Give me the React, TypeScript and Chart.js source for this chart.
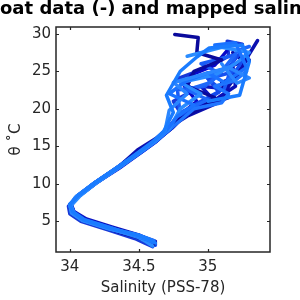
import React, { useEffect, useRef } from "react";
import { Chart, registerables } from "chart.js";

Chart.register(...registerables);

const titleText = "Float data (-) and mapped salinity";
const xLabel = "Salinity (PSS-78)";
const yLabel = "θ ˚C";
const xTicks = [34, 34.5, 35];
const yTicks = [5, 10, 15, 20, 25, 30];

// Profiles: salinity (S) and potential temperature (T), deep to surface
const s1 = [34.61, 34.55, 34.48, 34.28, 34.09, 34.01, 34.0, 34.05, 34.18, 34.34, 34.5, 34.6, 34.7, 34.78, 34.95, 35.05, 34.85, 34.9, 35.1, 34.92, 34.93, 34.76];
const t1 = [1.9, 2.4, 2.9, 4.0, 5.1, 6.1, 7.1, 8.3, 10.1, 12.1, 14.1, 15.6, 17.0, 18.5, 20.0, 21.5, 23.0, 25.0, 26.5, 27.5, 29.5, 29.9];
const s2 = [34.62, 34.56, 34.5, 34.3, 34.1, 34.02, 34.0, 34.06, 34.19, 34.35, 34.49, 34.62, 34.72, 34.85, 35.1, 35.15, 35.25, 35.3, 35.36];
const t2 = [2.3, 2.7, 3.1, 4.1, 5.2, 6.2, 7.2, 8.4, 10.2, 12.2, 14.5, 16.0, 17.5, 19.0, 21.0, 23.0, 25.5, 27.3, 29.1];
const s3 = [34.6, 34.54, 34.47, 34.27, 34.08, 34.0, 33.99, 34.05, 34.17, 34.33, 34.48, 34.61, 34.7, 34.8, 34.75, 34.9, 34.78, 35.0, 35.15, 35.14, 35.25];
const t3 = [1.6, 2.1, 2.7, 3.9, 5.0, 6.0, 7.0, 8.2, 10.0, 12.0, 14.0, 15.7, 17.2, 19.5, 21.0, 22.5, 24.0, 25.5, 27.0, 29.0, 28.6];
const s4 = [34.62, 34.57, 34.5, 34.29, 34.1, 34.02, 34.0, 34.06, 34.18, 34.34, 34.49, 34.6, 34.68, 34.75, 34.7, 34.8, 34.92, 35.01, 35.25, 35.3, 35.23, 35.0];
const t4 = [2.1, 2.6, 3.1, 4.1, 5.2, 6.3, 7.3, 8.4, 10.1, 12.1, 14.1, 15.6, 17.0, 19.5, 21.8, 25.0, 26.9, 28.1, 28.5, 26.3, 21.8, 21.0];
const s5 = [34.6, 34.55, 34.49, 34.3, 34.11, 34.03, 34.01, 34.07, 34.2, 34.36, 34.51, 34.63, 34.72, 34.8, 34.95, 34.8, 35.05, 35.2, 35.3, 35.1, 34.85];
const t5 = [1.7, 2.3, 2.9, 4.0, 5.1, 6.1, 7.1, 8.3, 10.2, 12.2, 14.2, 15.8, 17.3, 20.0, 22.0, 23.5, 24.5, 26.0, 27.5, 28.2, 27.0];
const s6 = [34.61, 34.56, 34.5, 34.29, 34.1, 34.02, 34.0, 34.05, 34.18, 34.34, 34.5, 34.62, 34.73, 34.9, 35.1, 35.0, 35.2, 35.25, 35.28];
const t6 = [2.0, 2.5, 3.0, 4.1, 5.2, 6.2, 7.2, 8.3, 10.1, 12.1, 14.1, 15.7, 17.4, 20.5, 22.5, 24.0, 25.0, 26.3, 27.5];
const s7 = [34.62, 34.57, 34.51, 34.31, 34.12, 34.03, 34.01, 34.06, 34.19, 34.35, 34.52, 34.64, 34.75, 34.88, 35.05, 34.95, 35.12, 35.2, 35.25, 35.27];
const t7 = [2.1, 2.6, 3.1, 4.2, 5.3, 6.3, 7.3, 8.4, 10.2, 12.2, 14.3, 15.9, 17.6, 20.0, 21.0, 23.0, 22.7, 24.5, 26.3, 27.0];
const s8 = [34.6, 34.55, 34.48, 34.28, 34.09, 34.01, 34.0, 34.04, 34.17, 34.33, 34.49, 34.61, 34.69, 34.72, 34.85, 34.75, 34.95, 35.15, 35.3, 35.21, 35.1];
const t8 = [2.3, 2.7, 3.1, 4.0, 5.1, 6.1, 7.1, 8.2, 10.0, 12.0, 14.0, 15.6, 17.1, 19.8, 22.0, 23.5, 24.5, 25.5, 24.1, 23.4, 26.0];
const s9 = [34.61, 34.56, 34.49, 34.3, 34.1, 34.02, 34.0, 34.06, 34.19, 34.35, 34.5, 34.62, 34.71, 34.82, 35.0, 34.85, 35.02, 35.1, 35.22, 35.3];
const t9 = [1.8, 2.3, 2.8, 4.1, 5.2, 6.2, 7.2, 8.3, 10.1, 12.1, 14.1, 15.7, 17.3, 19.7, 21.2, 22.5, 23.5, 25.0, 27.8, 28.3];
const s10 = [34.62, 34.57, 34.5, 34.3, 34.11, 34.03, 34.01, 34.06, 34.19, 34.36, 34.51, 34.63, 34.72, 34.82, 34.92, 34.83, 34.88, 35.05, 35.15];
const t10 = [2.0, 2.5, 3.0, 4.1, 5.2, 6.2, 7.2, 8.3, 10.1, 12.1, 14.1, 15.7, 17.3, 19.5, 21.0, 23.0, 24.5, 25.8, 28.0];
const s11 = [34.61, 34.55, 34.49, 34.29, 34.1, 34.02, 34.0, 34.05, 34.18, 34.34, 34.5, 34.62, 34.74, 34.9, 35.1, 35.15, 35.05, 35.2, 35.28];
const t11 = [2.4, 2.8, 3.2, 4.0, 5.1, 6.1, 7.1, 8.3, 10.1, 12.1, 14.1, 15.7, 17.5, 20.0, 20.8, 22.0, 23.0, 23.8, 25.0];
const s12 = [34.62, 34.56, 34.5, 34.3, 34.1, 34.02, 34.0, 34.06, 34.18, 34.35, 34.5, 34.62, 34.72, 34.8, 34.78, 34.98, 35.08, 34.95, 35.2, 35.12];
const t12 = [1.9, 2.4, 2.9, 4.1, 5.2, 6.2, 7.2, 8.3, 10.1, 12.1, 14.1, 15.7, 17.3, 19.0, 22.5, 23.0, 24.8, 26.0, 27.2, 22.7];
const s13 = [34.61, 34.56, 34.5, 34.3, 34.1, 34.02, 34.0, 34.06, 34.19, 34.35, 34.5, 34.63, 34.74, 34.85, 35.0, 35.15, 35.1, 35.22, 35.25, 35.18];
const t13 = [2.0, 2.5, 3.0, 4.1, 5.2, 6.2, 7.2, 8.3, 10.1, 12.1, 14.1, 15.8, 17.4, 19.5, 20.5, 21.5, 23.5, 24.5, 26.5, 27.5];
const s14 = [34.6, 34.55, 34.49, 34.29, 34.1, 34.02, 34.0, 34.05, 34.18, 34.34, 34.5, 34.61, 34.7, 34.78, 34.9, 34.72, 34.85, 35.0, 35.12, 35.28, 35.2, 35.05];
const t14 = [2.2, 2.6, 3.0, 4.0, 5.1, 6.1, 7.1, 8.3, 10.1, 12.1, 14.1, 15.6, 17.1, 19.0, 20.5, 22.0, 23.8, 24.8, 23.5, 25.5, 28.8, 28.5];
const s15 = [34.62, 34.57, 34.5, 34.3, 34.11, 34.03, 34.01, 34.06, 34.19, 34.35, 34.51, 34.63, 34.73, 34.8, 34.95, 35.08, 34.98, 35.15, 35.25];
const t15 = [1.8, 2.3, 2.8, 4.1, 5.2, 6.2, 7.2, 8.3, 10.1, 12.1, 14.1, 15.7, 17.3, 19.2, 20.8, 22.2, 24.5, 25.5, 27.8];
const s16 = [34.61, 34.56, 34.5, 34.3, 34.1, 34.02, 34.0, 34.06, 34.18, 34.35, 34.5, 34.62, 34.73, 34.82, 34.98, 35.1, 35.2, 35.18, 35.3];
const t16 = [2.1, 2.6, 3.1, 4.1, 5.2, 6.2, 7.2, 8.3, 10.1, 12.1, 14.1, 15.7, 17.3, 19.0, 20.2, 21.8, 23.0, 25.8, 26.5];

// listed top-most first (Chart.js draws the first dataset on top)
const profiles = [
  { s: s4, t: t4, color: "#1a7cff" },
  { s: s8, t: t8, color: "#2a86ff" },
  { s: s14, t: t14, color: "#1a72ff" },
  { s: s5, t: t5, color: "#2a8cff" },
  { s: s11, t: t11, color: "#2076ff" },
  { s: s1, t: t1, color: "#0a0a9c" },
  { s: s9, t: t9, color: "#1e68fa" },
  { s: s12, t: t12, color: "#1a5cf6" },
  { s: s2, t: t2, color: "#0c10b0" },
  { s: s15, t: t15, color: "#1448ec" },
  { s: s6, t: t6, color: "#1450f0" },
  { s: s13, t: t13, color: "#0a0ca8" },
  { s: s10, t: t10, color: "#0808c8" },
  { s: s3, t: t3, color: "#1838d8" },
  { s: s16, t: t16, color: "#0a10b8" },
  { s: s7, t: t7, color: "#0c14c0" },
];

const FONT = "'DejaVu Sans', sans-serif";
const INK = "#262626";

const framePlugin = {
  id: "frame",
  afterDraw(chart: any) {
    const { ctx, chartArea } = chart;
    const { left, right, top, bottom } = chartArea;
    const xs = chart.scales.x;
    const ys = chart.scales.y;
    ctx.save();
    ctx.strokeStyle = INK;
    ctx.lineWidth = 1.5;
    ctx.strokeRect(left, top, right - left, bottom - top);
    ctx.lineWidth = 1.2;
    const tl = 3;
    ctx.beginPath();
    xTicks.forEach((v) => {
      const px = Math.round(xs.getPixelForValue(v)) + 0.5;
      ctx.moveTo(px, bottom);
      ctx.lineTo(px, bottom - tl);
      ctx.moveTo(px, top);
      ctx.lineTo(px, top + tl);
    });
    yTicks.forEach((v) => {
      const py = Math.round(ys.getPixelForValue(v)) + 0.5;
      ctx.moveTo(left, py);
      ctx.lineTo(left + tl, py);
      ctx.moveTo(right, py);
      ctx.lineTo(right - tl, py);
    });
    ctx.stroke();
    ctx.fillStyle = "#000";
    ctx.font = `bold 18px ${FONT}`;
    ctx.textAlign = "left";
    ctx.textBaseline = "alphabetic";
    const lead = ctx.measureText(titleText.slice(0, 2)).width;
    ctx.fillText(titleText, -lead, 14);
    ctx.fillStyle = INK;
    ctx.textAlign = "center";
    ctx.font = `15px ${FONT}`;
    ctx.textBaseline = "middle";
    ctx.fillText(xLabel, (left + right) / 2, 288);
    ctx.translate(16, (top + bottom) / 2);
    ctx.rotate(-Math.PI / 2);
    ctx.fillText(yLabel, 0, 0);
    ctx.restore();
  },
};

export default function App() {
  const ref = useRef<HTMLCanvasElement>(null);
  useEffect(() => {
    document.body.style.margin = "0";
    const datasets = profiles.map((p) => ({
      data: p.s.map((s, i) => ({ x: s, y: p.t[i] })),
      borderColor: p.color,
      backgroundColor: p.color,
      borderWidth: 3.5,
      pointRadius: 0,
      showLine: true,
      tension: 0,
      borderJoinStyle: "round" as const,
      borderCapStyle: "round" as const,
    }));
    const chart = new Chart(ref.current!, {
      type: "scatter",
      data: { datasets },
      options: {
        animation: false,
        responsive: false,
        layout: { padding: { top: 27, right: 30, left: 0, bottom: 0 } },
        plugins: { legend: { display: false }, tooltip: { enabled: false }, title: { display: false } },
        scales: {
          x: {
            type: "linear",
            min: 33.9,
            max: 35.45,
            afterBuildTicks: (s: any) => {
              s.ticks = xTicks.map((v) => ({ value: v }));
            },
            afterFit: (s: any) => {
              s.height = 48;
            },
            grid: { display: false, drawTicks: false },
            border: { display: false },
            ticks: { color: INK, font: { family: FONT, size: 15 }, padding: 6, callback: (v: any) => String(v) },
          },
          y: {
            type: "linear",
            min: 0.9,
            max: 30.9,
            afterBuildTicks: (s: any) => {
              s.ticks = yTicks.map((v) => ({ value: v }));
            },
            afterFit: (s: any) => {
              s.width = 56;
            },
            grid: { display: false, drawTicks: false },
            border: { display: false },
            ticks: { color: INK, font: { family: FONT, size: 15 }, padding: 5, callback: (v: any) => String(v) },
          },
        },
      },
      plugins: [framePlugin],
    });
    return () => chart.destroy();
  }, []);
  return <canvas ref={ref} width={300} height={300} style={{ display: "block" }} />;
}
